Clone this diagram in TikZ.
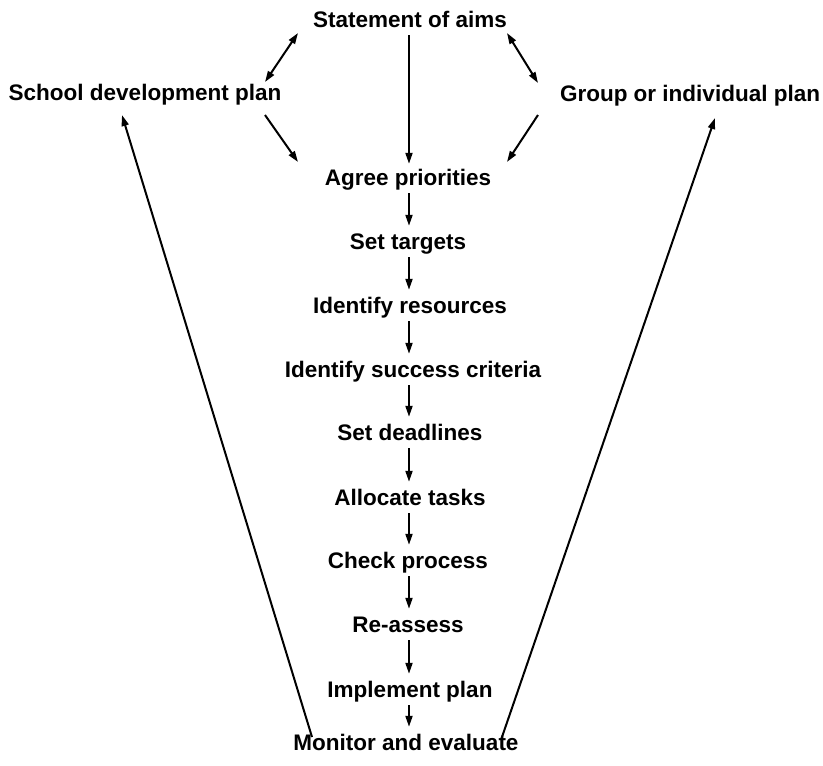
\documentclass[tikz,border=0pt]{standalone}
\usepackage{fontspec}
\newfontfamily\labelfont{Liberation Sans}
\usetikzlibrary{arrows.meta}
\begin{document}
\begin{tikzpicture}[x=1pt,y=-1pt,
  lbl/.style={anchor=base, inner sep=0pt, text height=17pt, text depth=5pt,
              font=\labelfont\bfseries\fontsize{22.5}{27}\selectfont},
  arr/.style={line width=2pt, -{Triangle[length=11pt,width=7pt]}},
  darr/.style={line width=2pt, {Triangle[length=11pt,width=7pt]}-{Triangle[length=11pt,width=7pt]}},
  flow/.style={arr, shorten <=3pt, shorten >=6pt}]
\useasboundingbox (0,0) rectangle (823,766);

% labels
\node[lbl] (aims)  at (410,27)  {Statement of aims};
\node[lbl] (sdp)   at (145,100) {School development plan};
\node[lbl] (grp)   at (690,101) {Group or individual plan};
\node[lbl] (agree) at (408,185) {Agree priorities};
\node[lbl] (targ)  at (408,249) {Set targets};
\node[lbl] (res)   at (410,313) {Identify resources};
\node[lbl] (crit)  at (413,377) {Identify success criteria};
\node[lbl] (dead)  at (410,440) {Set deadlines};
\node[lbl] (alloc) at (410,505) {Allocate tasks};
\node[lbl] (check) at (408,568) {Check process};
\node[lbl] (reass) at (408,632) {Re-assess};
\node[lbl] (impl)  at (410,697) {Implement plan};
\node[lbl] (mon)   at (406,750) {Monitor and evaluate};

% column of the step arrows
\coordinate (col) at (409,0);

% arrow ends around the top of the diagram
\coordinate (aimsL) at (298,33);
\coordinate (sdpT)  at (265,82);
\coordinate (sdpB)  at (265,115);
\coordinate (agrL)  at (298,162);
\coordinate (aimsR) at (507,33);
\coordinate (grpT)  at (538,83);
\coordinate (grpB)  at (538,115);
\coordinate (agrR)  at (507,162);

% feedback lines from monitoring back to the plans
\coordinate (monL) at (312,737);
\coordinate (sdpU) at (122,115);
\coordinate (monR) at (502,737);
\coordinate (grpU) at (715,118);

\draw[arr, shorten <=3pt, shorten >=4pt] (aims.south -| col) -- (agree.north -| col);
\draw[darr] (aimsL) -- (sdpT);
\draw[arr]  (sdpB) -- (agrL);
\draw[darr] (aimsR) -- (grpT);
\draw[arr]  (grpB) -- (agrR);

\foreach \a/\b in {agree/targ, targ/res, res/crit, crit/dead, dead/alloc,
                   alloc/check, check/reass, reass/impl, impl/mon}
  \draw[flow] (\a.south -| col) -- (\b.north -| col);

\draw[arr] (monL) -- (sdpU);
\draw[arr] (monR) -- (grpU);
\end{tikzpicture}
\end{document}
